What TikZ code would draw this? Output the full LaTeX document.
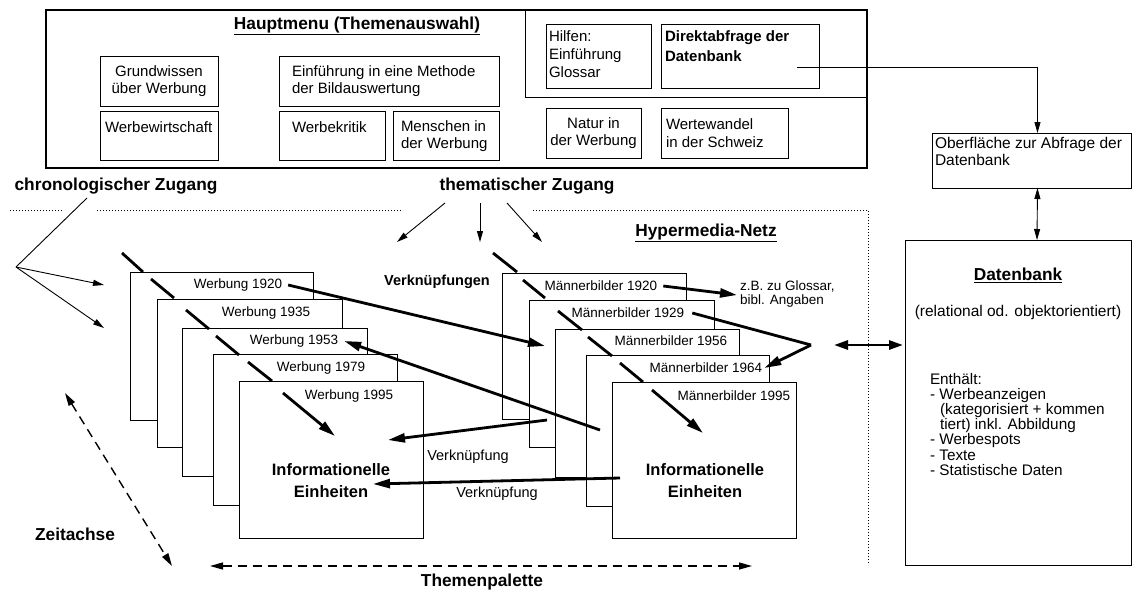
\documentclass[tikz,border=0pt]{standalone}
\usepackage{fontspec}
\setmainfont{Liberation Sans}
\usetikzlibrary{arrows.meta}
\begin{document}
\begin{tikzpicture}[x=1pt,y=-1pt,
  box/.style={draw, line width=0.9pt, inner sep=0pt, outer sep=0pt, anchor=north west},
  mainbox/.style={draw, line width=1.4pt, inner sep=0pt, outer sep=0pt, anchor=north west},
  page/.style={draw, line width=0.6pt, fill=white, inner sep=0pt, outer sep=0pt, anchor=north west},
  tx/.style={font=\fontsize{15}{17.5}\selectfont, inner sep=0pt, outer sep=0pt},
  sm/.style={font=\fontsize{13.5}{14.5}\selectfont, inner sep=0pt, outer sep=0pt},
  lbl/.style={font=\fontsize{17.3}{20}\selectfont\bfseries, inner sep=0pt, outer sep=0pt},
  tk/.style={line width=2.8pt},
  tkarr/.style={line width=2.8pt, -{Triangle[length=17pt,width=9pt]}},
  tkboth/.style={line width=2.8pt, {Triangle[length=14pt,width=9pt]}-{Triangle[length=14pt,width=9pt]}},
  thinarr/.style={line width=0.9pt, -{Triangle[length=11pt,width=6pt]}},
  thinboth/.style={line width=0.9pt, {Triangle[length=11pt,width=6pt]}-{Triangle[length=11pt,width=6pt]}},
  dsh/.style={line width=1.4pt, dash pattern=on 9pt off 6pt, {Triangle[length=13pt,width=7pt]}-{Triangle[length=13pt,width=7pt]}},
  dotln/.style={line width=0.8pt, dash pattern=on 1pt off 2pt}]
\useasboundingbox (0,0) rectangle (1133,590);

% ---------- main menu ----------
\node[mainbox, minimum width=821pt, minimum height=158pt] (main) at (46,10) {};
\node[box, minimum width=342pt, minimum height=87pt] (inner) at (525,10) {};
\node[lbl] (title) at (357,26) {\underline{Hauptmenu (Themenauswahl)}};

\node[box, minimum width=118pt, minimum height=50pt] (gw) at (100,56) {};
\node[tx, align=center] (gwt) at (159,81) {Grundwissen\\über Werbung};
\node[box, minimum width=118pt, minimum height=49pt] (ww) at (100,111) {};
\node[tx, anchor=west] (wwt) at (105,127) {Werbewirtschaft};
\node[box, minimum width=220pt, minimum height=50pt] (ei) at (279,56) {};
\node[tx, anchor=west, align=left] (eit) at (292,81) {Einführung in eine Methode\\der Bildauswertung};
\node[box, minimum width=106pt, minimum height=49pt] (wk) at (279,111) {};
\node[tx, anchor=west] (wkt) at (292,127) {Werbekritik};
\node[box, minimum width=106pt, minimum height=49pt] (mi) at (393,111) {};
\node[tx, anchor=west, align=left] (mit) at (401,136) {Menschen in\\der Werbung};

\node[box, minimum width=105pt, minimum height=64pt] (hi) at (546,24) {};
\node[tx, anchor=west, align=left, font=\fontsize{15}{18}\selectfont] (hit) at (549,54) {Hilfen:\\Einführung\\Glossar};
\node[box, minimum width=158pt, minimum height=64pt] (da) at (661,24) {};
\node[tx, anchor=west, align=left, font=\fontsize{15}{20}\selectfont\bfseries] (dat) at (665,46) {Direktabfrage der\\Datenbank};
\node[box, minimum width=95pt, minimum height=50pt] (na) at (546,108) {};
\node[tx, align=center] (nat) at (593.5,133) {Natur in\\der Werbung};
\node[box, minimum width=127pt, minimum height=50pt] (wt) at (661,108) {};
\node[tx, anchor=west, align=left] (wtt) at (666,133) {Wertewandel\\in der Schweiz};

% ---------- query surface and database ----------
\node[box, minimum width=199pt, minimum height=55pt] (ob) at (932,133) {};
\node[tx, anchor=north west, align=left, font=\fontsize{15.5}{17.5}\selectfont] (obt) at (935,137) {Oberfläche zur Abfrage der\\Datenbank};
\node[box, minimum width=226pt, minimum height=325pt] (db) at (905,240) {};
\node[lbl] (dbt) at (1018,275) {\underline{Datenbank}};
\node[tx, font=\fontsize{15.5}{17}\selectfont] (dbr) at (1018,312) {(relational od. objektorientiert)};
\node[tx, anchor=north west, align=left, font=\fontsize{15.3}{15.2}\selectfont] (dbl) at (930,373)
  {Enthält:\\- Werbeanzeigen\\\hspace*{10pt}(kategorisiert + kommen\\\hspace*{10pt}tiert) inkl. Abbildung\\- Werbespots\\- Texte\\- Statistische Daten};

\coordinate (dq) at (797,67);
\draw[thinarr] (dq) -| ([xshift=6pt]ob.north);
\draw[thinboth] ([xshift=6pt]ob.south) -- ([xshift=19pt]db.north);

% ---------- access labels ----------
\node[lbl] (chz) at (116,186) {chronologischer Zugang};
\node[lbl] (thz) at (527,186) {thematischer Zugang};

\draw[dotln] (10,210) -- (62,210);
\draw[dotln] (97,210) -- (402,210);
\draw[dotln] (533,210) -- (868,210) -- (868,565);

\coordinate (cz) at (87,198);
\coordinate (cv) at (16,267);
\coordinate (ca1) at (104,285);
\coordinate (ca2) at (104,328);
\draw[line width=0.9pt] (cz) -- (cv);
\draw[thinarr] (cv) -- (ca1);
\draw[thinarr] (cv) -- (ca2);

\coordinate (t1) at (445,203); \coordinate (t1e) at (397,242);
\coordinate (t2) at (480,203); \coordinate (t2e) at (480,242);
\coordinate (t3) at (507,203); \coordinate (t3e) at (542,242);
\draw[thinarr] (t1) -- (t1e);
\draw[thinarr] (t2) -- (t2e);
\draw[thinarr] (t3) -- (t3e);

\node[lbl] (hyp) at (706,233) {\underline{Hypermedia-Netz}};
\node[font=\fontsize{14.5}{17}\selectfont\bfseries, inner sep=0pt] (vkn) at (437,282) {Verknüpfungen};

% ---------- left stack ----------
\node[page, minimum width=183pt, minimum height=148pt] (L1) at (130,272) {};
\node[page, minimum width=185pt, minimum height=148pt] (L2) at (157,299) {};
\node[page, minimum width=185pt, minimum height=148pt] (L3) at (182,328) {};
\node[page, minimum width=184pt, minimum height=151pt] (L4) at (213,354) {};
\node[page, minimum width=184pt, minimum height=157pt] (L5) at (239,381) {};
\node[sm] (L1t) at (238,285) {Werbung 1920};
\node[sm] (L2t) at (266,313) {Werbung 1935};
\node[sm] (L3t) at (294,341) {Werbung 1953};
\node[sm] (L4t) at (321,368) {Werbung 1979};
\node[sm] (L5t) at (349,396) {Werbung 1995};
\node[font=\fontsize{16.5}{22}\selectfont\bfseries, align=center, inner sep=0pt] (L5i) at (331,481) {Informationelle\\Einheiten};

% ---------- right stack ----------
\node[page, minimum width=184pt, minimum height=146pt] (R1) at (502,273) {};
\node[page, minimum width=185pt, minimum height=147pt] (R2) at (529,300) {};
\node[page, minimum width=184pt, minimum height=148pt] (R3) at (555,329) {};
\node[page, minimum width=183pt, minimum height=151pt] (R4) at (586,355) {};
\node[page, minimum width=184pt, minimum height=156pt] (R5) at (612,382) {};
\node[sm] (R1t) at (601,286) {Männerbilder 1920};
\node[sm] (R2t) at (628,313) {Männerbilder 1929};
\node[sm] (R3t) at (671,341) {Männerbilder 1956};
\node[sm] (R4t) at (706,368) {Männerbilder 1964};
\node[sm] (R5t) at (734,396) {Männerbilder 1995};
\node[font=\fontsize{16.5}{22}\selectfont\bfseries, align=center, inner sep=0pt] (R5i) at (705,481) {Informationelle\\Einheiten};

% ---------- tabs (time axis markers) ----------
\draw[tk] (122,253) -- (143,272);
\draw[tk] (151,279) -- (174,298);
\draw[tk] (186,310) -- (209,329);
\draw[tk] (216,336) -- (239,355);
\draw[tk] (248,362) -- (272,381);
\coordinate (la) at (283,393); \coordinate (lae) at (335,436);
\draw[tkarr] (la) -- (lae);
\draw[tk] (493,253) -- (517,272);
\draw[tk] (523,280) -- (545,298);
\draw[tk] (558,311) -- (582,330);
\draw[tk] (588,337) -- (612,356);
\draw[tk] (620,363) -- (643,382);
\coordinate (ra) at (652,390); \coordinate (rae) at (703,433);
\draw[tkarr] (ra) -- (rae);

% ---------- links ----------
\coordinate (k1e) at (545,346);
\draw[tkarr] ([xshift=6pt]L1t.east) -- (k1e);
\coordinate (k2s) at (600,430);
\draw[tkarr] (k2s) -- ([xshift=6pt]L3t.east);
\coordinate (k3s) at (547,420); \coordinate (k3e) at (388,440);
\draw[tkarr] (k3s) -- (k3e);
\node[tx, font=\fontsize{14.5}{17}\selectfont] (vk1) at (468,457) {Verknüpfung};
\coordinate (k4s) at (620,478); \coordinate (k4e) at (373,484);
\draw[tkarr] (k4s) -- (k4e);
\node[tx, font=\fontsize{14.5}{17}\selectfont] (vk2) at (497,494) {Verknüpfung};

\node[sm, anchor=west, align=left] (zb) at (740,294) {z.B. zu Glossar,\\bibl. Angaben};
\draw[tkarr] ([xshift=6pt]R1t.east) -- ([xshift=-3pt,yshift=-1pt]zb.west);
\coordinate (bend) at (811,345);
\draw[tk] ([xshift=8pt]R2t.east) -- (bend);
\draw[tkarr] (bend) -- ([xshift=2pt]R4t.east);

\coordinate (dbl1) at (834,345); \coordinate (dbl2) at (903,345);
\draw[tkboth] (dbl1) -- (dbl2);

% ---------- axes ----------
\coordinate (za) at (65,393); \coordinate (zb2) at (172,566);
\draw[dsh] (za) -- (zb2);
\node[lbl] (zt) at (75,534) {Zeitachse};
\coordinate (pa) at (210,566); \coordinate (pb) at (752,566);
\draw[dsh] (pa) -- (pb);
\node[lbl] (pt) at (482,582) {Themenpalette};
\end{tikzpicture}
\end{document}
